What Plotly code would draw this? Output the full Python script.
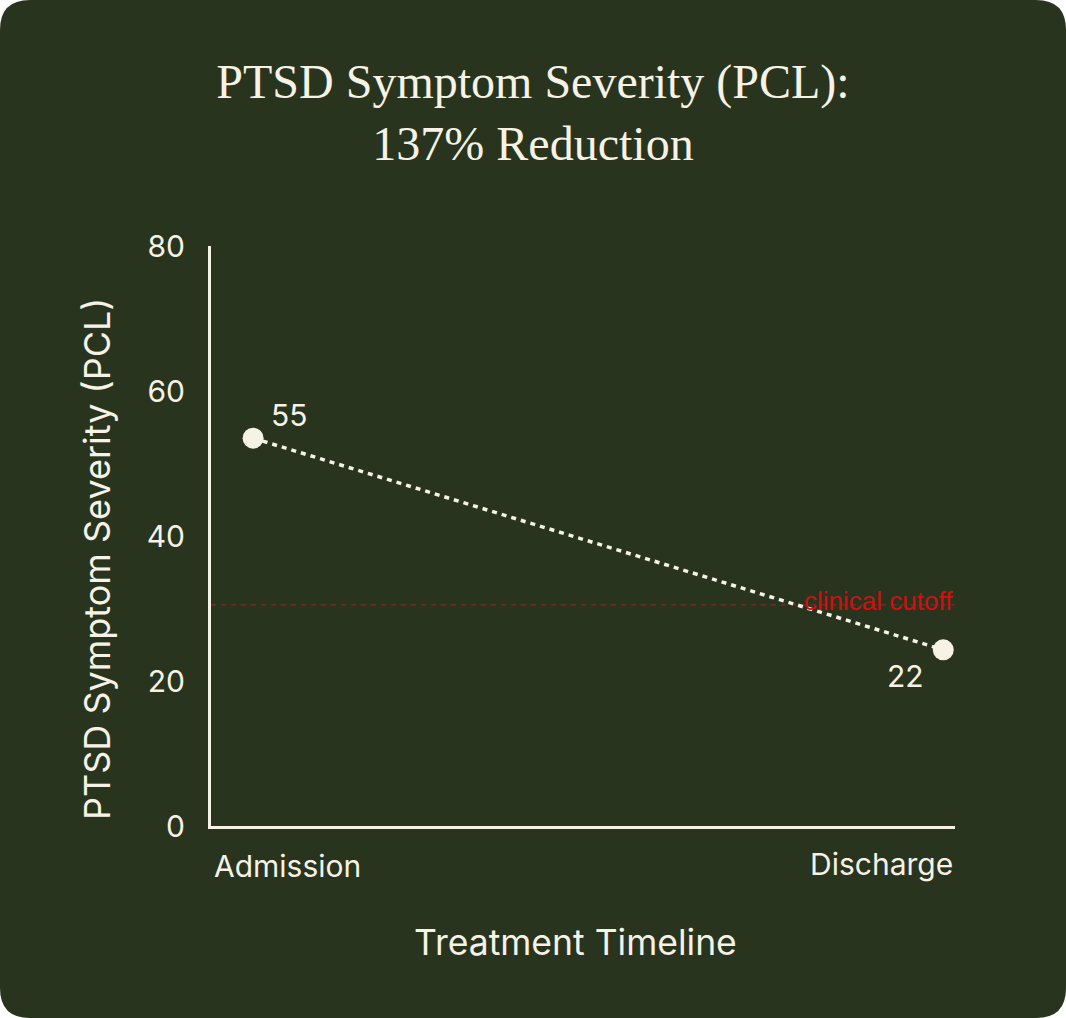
import plotly.graph_objects as go

# ---- data ----
stages = ["Admission", "Discharge"]
pcl_scores = [53.5, 24.3]
point_labels = ["55", "22"]
clinical_cutoff = 30.5
y_ticks = [0, 20, 40, 60, 80]

# ---- style ----
BG = "#29341f"
CREAM = "#f6f2e6"
W, H = 1066, 1018
L, R, T, B = 211, 111, 246, 192
PW, PH = W - L - R, H - T - B


def px_x(p):
    return (p - L) / PW


def px_y(p):
    return (H - B - p) / PH


# rounded background path (paper coords)
rad = 30
x0, x1 = px_x(0), px_x(W)
y0, y1 = px_y(H), px_y(0)
rx, ry = rad / PW, rad / PH
path = (
    f"M {x0+rx} {y1} L {x1-rx} {y1} Q {x1} {y1} {x1} {y1-ry} "
    f"L {x1} {y0+ry} Q {x1} {y0} {x1-rx} {y0} "
    f"L {x0+rx} {y0} Q {x0} {y0} {x0} {y0+ry} "
    f"L {x0} {y1-ry} Q {x0} {y1} {x0+rx} {y1} Z"
)

fig = go.Figure()
fig.add_trace(go.Scatter(
    x=stages, y=pcl_scores, mode="lines+markers",
    line=dict(color=CREAM, width=3.5, dash="5px,5px"),
    marker=dict(size=21, color=CREAM),
    hoverinfo="skip", showlegend=False,
))

shapes = [
    dict(type="path", path=path, xref="paper", yref="paper",
         fillcolor=BG, line=dict(width=0), layer="below"),
    dict(type="line", xref="x domain", x0=0, x1=1, yref="y",
         y0=clinical_cutoff, y1=clinical_cutoff,
         line=dict(color="rgba(210,30,30,0.7)", width=1, dash="5px,5px"),
         layer="below"),
]

annotations = [
    dict(x=stages[0], y=pcl_scores[0], text=point_labels[0], showarrow=False,
         xshift=36, yshift=23, font=dict(family="Inter", size=30, color=CREAM)),
    dict(x=stages[1], y=pcl_scores[1], text=point_labels[1], showarrow=False,
         xshift=-38, yshift=-26, font=dict(family="Inter", size=30, color=CREAM)),
    dict(xref="x domain", x=1, y=clinical_cutoff, text="clinical cutoff",
         showarrow=False, xanchor="right", yanchor="middle", yshift=4,
         font=dict(family="Liberation Sans", size=26, color="#cc1111")),
    dict(xref="x domain", x=0, yref="paper", y=px_y(866), text=stages[0],
         showarrow=False, xanchor="left", yanchor="middle", xshift=1,
         font=dict(family="Inter", size=30, color=CREAM)),
    dict(xref="x domain", x=1, yref="paper", y=px_y(864), text=stages[1],
         showarrow=False, xanchor="right", yanchor="middle",
         font=dict(family="Inter", size=30, color=CREAM)),
    dict(xref="paper", x=px_x(575), yref="paper", y=px_y(942),
         text="Treatment Timeline", showarrow=False,
         xanchor="center", yanchor="middle",
         font=dict(family="Inter", size=35.5, color=CREAM)),
    dict(xref="paper", x=px_x(97), yref="paper", y=px_y(559),
         text="PTSD Symptom Severity (PCL)", showarrow=False, textangle=-90,
         xanchor="center", yanchor="middle",
         font=dict(family="Inter", size=36, color=CREAM)),
]

fig.update_layout(
    width=W, height=H,
    margin=dict(l=L, r=R, t=T, b=B, pad=0),
    paper_bgcolor="white", plot_bgcolor="rgba(0,0,0,0)",
    title=dict(
        text="PTSD Symptom Severity (PCL):<br>137% Reduction",
        x=0.5, xref="container", xanchor="center",
        y=1 - 98 / H, yref="container", yanchor="top",
        font=dict(family="Liberation Serif", size=48, color=CREAM),
    ),
    shapes=shapes, annotations=annotations,
    xaxis=dict(
        type="category", range=[-0.061, 1.017], showgrid=False, zeroline=False,
        showticklabels=False, ticks="", showline=True, linecolor=CREAM,
        linewidth=3,
    ),
    yaxis=dict(
        range=[0, 80], tickvals=y_ticks, showgrid=False, zeroline=False,
        showline=True, linecolor=CREAM, linewidth=3, ticks="",
        ticklabelstandoff=17,
        tickfont=dict(family="Inter", size=30, color=CREAM),
    ),
)

fig.write_html("out.html")
